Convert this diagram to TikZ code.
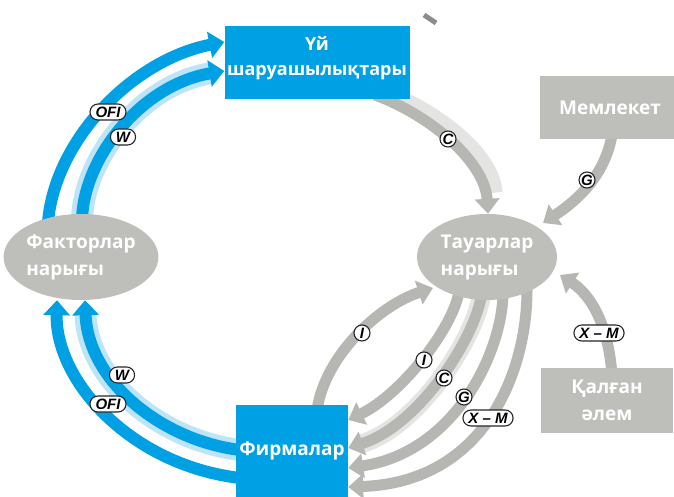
\documentclass[tikz,border=0pt]{standalone}
\usepackage{fontspec}
\setmainfont{Open Sans}
\newfontfamily\lblfont{Liberation Sans}
\usetikzlibrary{arrows.meta,shapes.geometric,calc}
\definecolor{hblue}{RGB}{0,161,228}
\definecolor{lblue}{RGB}{190,228,247}
\definecolor{boxgray}{RGB}{190,190,187}
\definecolor{arrgray}{RGB}{182,182,178}
\definecolor{halogray}{RGB}{228,228,226}
\pgfdeclarelayer{back}
\pgfsetlayers{back,main}
\begin{document}
\begin{tikzpicture}[x=1pt,y=-1pt,
  txt/.style={text=white, font=\fontsize{19}{27}\selectfont\bfseries, inner sep=0pt},
  bluebox/.style={rectangle, fill=hblue, inner sep=0pt},
  graybox/.style={txt, rectangle, fill=boxgray, align=center},
  market/.style={txt, ellipse, fill=boxgray, align=left},
  bluearrow/.style={draw=hblue, line width=12pt, -{Triangle[width=26pt,length=15pt]}},
  bluehalo/.style={draw=lblue, line width=22pt, shorten >=15pt},
  grayarrow/.style={draw=arrgray, line width=11pt, -{Triangle[width=24pt,length=15pt]}},
  grayhalo/.style={draw=halogray, line width=19pt, shorten >=15pt},
  lblbase/.style={draw=black!85, line width=1.1pt, fill=white, text=black,
    font=\lblfont\fontsize{15}{15}\selectfont\bfseries\itshape},
  pill/.style={lblbase, rectangle, rounded corners=8pt, inner xsep=5.5pt, inner ysep=0pt, minimum height=16pt},
  circ/.style={lblbase, circle, inner sep=0pt, minimum size=16pt}
]
\useasboundingbox (0,0) rectangle (674,497);

% nodes
\node[bluebox, minimum width=185pt, minimum height=73pt] (hh) at (317,63) {};
\node[txt, align=center, font=\fontsize{18}{25}\selectfont\bfseries] (hhtext) at (317,58) {Үй\\шаруашылықтары};
\node[bluebox, minimum width=112pt, minimum height=94pt] (firms) at (292,452) {};
\node[txt] (firmstext) at (292,451) {Фирмалар};
\node[market, minimum width=142pt, minimum height=86pt] (fm) at (81,257) {Факторлар\\нарығы};
\node[market, minimum width=140pt, minimum height=86pt] (gm) at (487,257) {Тауарлар\\нарығы};
\node[graybox, minimum width=140pt, minimum height=63pt] (state) at (610,108) {Мемлекет};
\node[graybox, minimum width=132pt, minimum height=65pt] (row) at (607,400) {Қалған\\әлем};

\begin{pgfonlayer}{back}
% factor market -> households
\draw[bluearrow] ($(fm.center)+(-33,-35)$) .. controls +(7,-82) and +(-92,18) .. ($(hh.west)+(0,-21)$);
\draw[bluehalo] ($(fm.center)+(1,-35)$) .. controls +(0,-62) and +(-84,14) .. ($(hh.west)+(0,8)$);
\draw[bluearrow] ($(fm.center)+(1,-35)$) .. controls +(0,-62) and +(-84,14) .. ($(hh.west)+(0,8)$);
% firms -> factor market
\draw[bluearrow] ($(firms.center)+(-52,26)$) .. controls +(-110,-13) and +(-2,80) .. ($(fm.south)+(-24,0)$);
\draw[bluehalo] ($(firms.center)+(-52,-2)$) .. controls +(-80,-10) and +(3,80) .. ($(fm.south)+(4,0)$);
\draw[bluearrow] ($(firms.center)+(-52,-2)$) .. controls +(-80,-10) and +(3,80) .. ($(fm.south)+(4,0)$);
% households -> goods market (C)
\draw[grayhalo] ($(hh.center)+(64,29)$) .. controls +(55,20) and +(-3,-52) .. ($(gm.north)+(7,-6)$);
\draw[grayarrow] ($(hh.center)+(58,32)$) .. controls +(55,20) and +(-3,-52) .. ($(gm.north)+(1,0)$);
% state -> goods market (G)
\draw[grayarrow] ($(state.center)+(2,27)$) .. controls +(-7,40) and +(35,-23) .. ($(gm.center)+(56,-34)$);
% rest of world -> goods market (X-M)
\draw[grayarrow] ($(row.center)+(5,-25)$) .. controls +(-4,-55) and +(28,18) .. ($(gm.center)+(73,18)$);
% firms -> goods market (I)
\draw[grayarrow] ($(firms.center)+(25,-42)$) .. controls +(8,-55) and +(-53,17) .. ($(gm.center)+(-54,31)$);
% goods market -> firms
\draw[grayarrow] ($(gm.center)+(-28,35)$) .. controls +(-7,38) and +(52,-25) .. ($(firms.east)+(0,-32)$);
\draw[grayhalo] ($(gm.center)+(-5,35)$) .. controls +(-5,43) and +(72,-23) .. ($(firms.east)+(0,-4)$);
\draw[grayarrow] ($(gm.center)+(-5,35)$) .. controls +(-5,43) and +(72,-23) .. ($(firms.east)+(0,-4)$);
\draw[grayarrow] ($(gm.center)+(16,35)$) .. controls +(0,58) and +(108,-16) .. ($(firms.east)+(0,16)$);
\draw[grayarrow] ($(gm.center)+(40,33)$) .. controls +(0,80) and +(138,-5) .. ($(firms.east)+(0,35)$);
% small stroke at the top
\draw[draw=black!45, line width=5pt] (424,15) -- (436,23);
\end{pgfonlayer}

% labels
\node[pill] (l1) at (108,112) {OFI};
\node[pill] (l2) at (123,137) {W};
\node[pill] (l3) at (122,375) {W};
\node[pill] (l4) at (108,404) {OFI};
\node[circ] (l5) at (448,139) {C};
\node[circ] (l6) at (587,180) {G};
\node[pill] (l7) at (599,333) {X – M};
\node[circ] (l8) at (362,333) {I};
\node[circ] (l9) at (424,360) {I};
\node[circ] (l10) at (444,378) {C};
\node[circ] (l11) at (464,397) {G};
\node[pill] (l12) at (488,418) {X – M};
\end{tikzpicture}
\end{document}
